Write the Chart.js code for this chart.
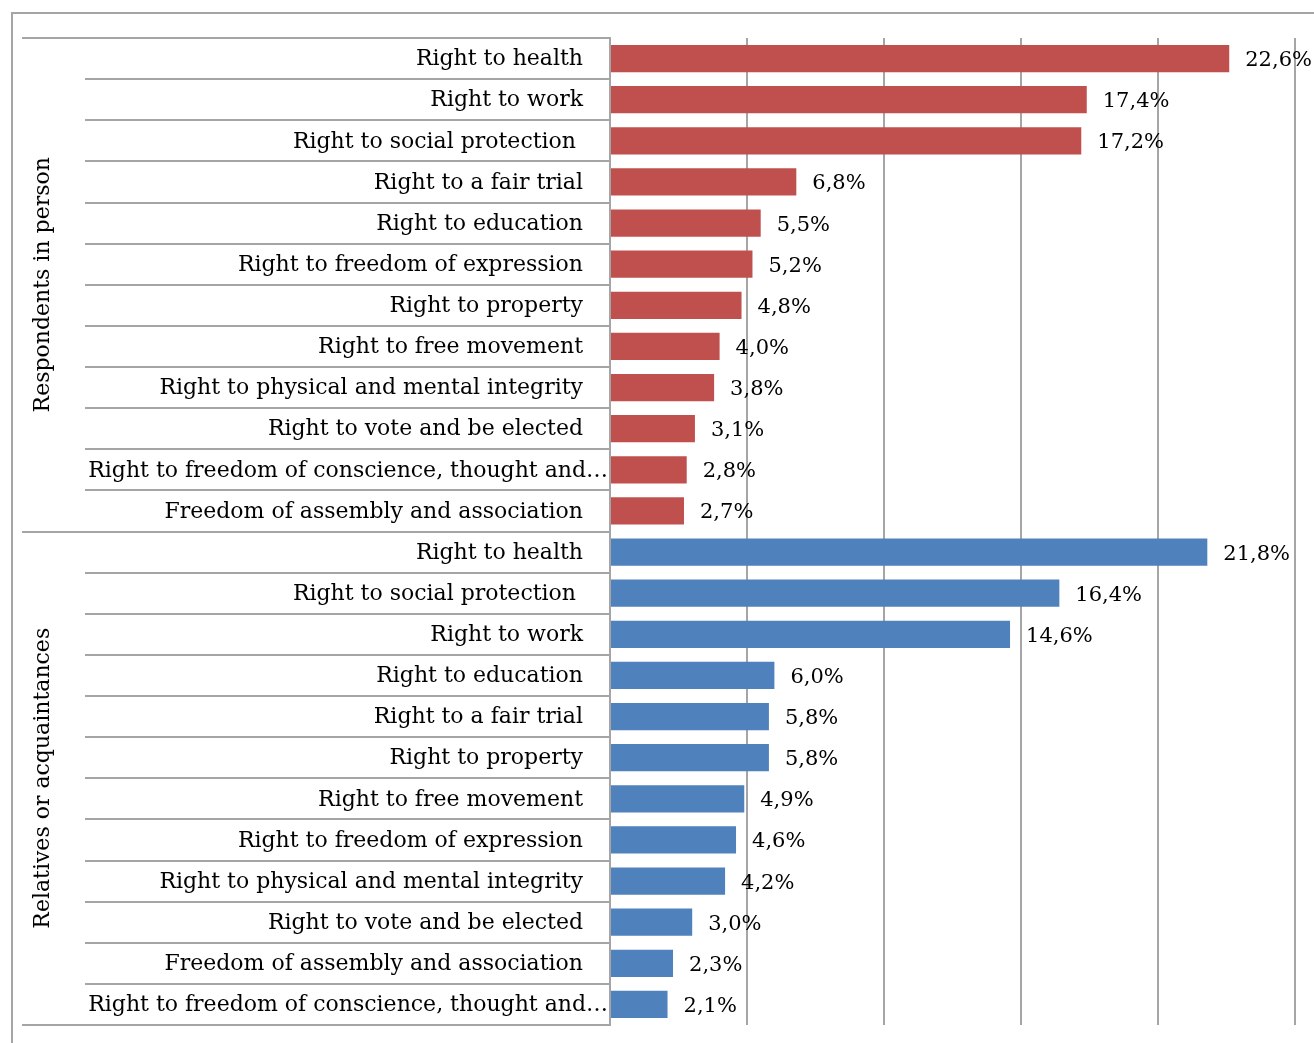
<!DOCTYPE html>
<html>
<head>
<meta charset="utf-8">
<script src="https://cdn.jsdelivr.net/npm/chart.js@4.4.1/dist/chart.umd.min.js"></script>
<style>
  html, body { margin: 0; padding: 0; background: #fff; }
  #wrap { position: relative; width: 1314px; height: 1043px; }
  #frame { position: absolute; left: 11px; top: 12px; right: -4px; bottom: -4px;
           border-left: 2px solid #a5a5a5; border-top: 2px solid #a5a5a5; }
  canvas { position: absolute; left: 0; top: 0; }
</style>
</head>
<body>
<div id="wrap">
  <div id="frame"></div>
  <canvas id="chart" width="1314" height="1043"></canvas>
</div>
<script>
const groupNames = ["Respondents in person", "Relatives or acquaintances"];

const personLabels = [
  "Right to health",
  "Right to work",
  "Right to social protection ",
  "Right to a fair trial",
  "Right to education",
  "Right to freedom of expression",
  "Right to property",
  "Right to free movement",
  "Right to physical and mental integrity",
  "Right to vote and be elected",
  "Right to freedom of conscience, thought and…",
  "Freedom of assembly and association"
];
const personValues = [22.6, 17.4, 17.2, 6.8, 5.5, 5.2, 4.8, 4.0, 3.8, 3.1, 2.8, 2.7];

const relativeLabels = [
  "Right to health",
  "Right to social protection ",
  "Right to work",
  "Right to education",
  "Right to a fair trial",
  "Right to property",
  "Right to free movement",
  "Right to freedom of expression",
  "Right to physical and mental integrity",
  "Right to vote and be elected",
  "Freedom of assembly and association",
  "Right to freedom of conscience, thought and…"
];
const relativeValues = [21.8, 16.4, 14.6, 6.0, 5.8, 5.8, 4.9, 4.6, 4.2, 3.0, 2.3, 2.1];

const xTicks = [0, 5, 10, 15, 20, 25];

const RED = "#C0504D";
const BLUE = "#4F81BD";
const GRID = "#a5a5a5";
const FONT = "DejaVu Serif";

const labels = personLabels.concat(relativeLabels);
const values = personValues.concat(relativeValues);
const colors = personValues.map(() => RED).concat(relativeValues.map(() => BLUE));

// category labels, separators, group titles and value labels
const decorations = {
  id: "decorations",
  afterDraw(chart) {
    const ctx = chart.ctx;
    const y = chart.scales.y;
    const area = chart.chartArea;
    const n = labels.length;
    const half = personLabels.length;
    const step = y.getPixelForValue(1) - y.getPixelForValue(0);

    ctx.save();
    // separators
    ctx.strokeStyle = GRID;
    ctx.lineWidth = 2;
    for (let i = 0; i <= n; i++) {
      const py = Math.round(y.getPixelForValue(i) - step / 2);
      const x0 = (i === 0 || i === n || i === half) ? 22 : 85;
      ctx.beginPath();
      ctx.moveTo(x0, py);
      ctx.lineTo(area.left, py);
      ctx.stroke();
    }

    // category labels
    ctx.fillStyle = "#000";
    ctx.font = "22px '" + FONT + "'";
    ctx.textBaseline = "middle";
    ctx.textAlign = "right";
    labels.forEach((lab, i) => {
      const py = y.getPixelForValue(i) + 1;
      const w = ctx.measureText(lab.trimEnd()).width;
      let right = area.left - 27;
      if (right - w < 88) right = area.left - 2;
      const txt = lab.endsWith(" ") ? lab.trimEnd() : lab;
      const shift = lab.endsWith(" ") ? 7 : 0;
      ctx.fillText(txt, right - shift, py);
    });

    // group titles
    ctx.textAlign = "center";
    const groups = [[0, half - 1], [half, n - 1]];
    groups.forEach((g, k) => {
      const cy = (y.getPixelForValue(g[0]) + y.getPixelForValue(g[1])) / 2;
      ctx.save();
      ctx.translate(43, cy);
      ctx.rotate(-Math.PI / 2);
      ctx.fillText(groupNames[k], 0, 0);
      ctx.restore();
    });

    // value labels
    ctx.textAlign = "left";
    ctx.font = "21px '" + FONT + "'";
    const meta = chart.getDatasetMeta(0);
    meta.data.forEach((bar, i) => {
      const txt = values[i].toFixed(1).replace(".", ",") + "%";
      ctx.fillText(txt, bar.x + 16, bar.y + 2);
    });
    ctx.restore();
  }
};

new Chart(document.getElementById("chart"), {
  type: "bar",
  data: {
    labels: labels,
    datasets: [{
      data: values,
      backgroundColor: colors,
      borderWidth: 0,
      barPercentage: 0.66,
      categoryPercentage: 1
    }]
  },
  options: {
    indexAxis: "y",
    responsive: false,
    animation: false,
    layout: { padding: { top: 38, bottom: 18, right: 19, left: 0 } },
    plugins: { legend: { display: false }, tooltip: { enabled: false } },
    scales: {
      x: {
        min: xTicks[0],
        max: xTicks[xTicks.length - 1],
        afterBuildTicks: s => { s.ticks = xTicks.map(v => ({ value: v })); },
        ticks: { display: false },
        border: { display: false },
        grid: { color: GRID, lineWidth: 2, drawTicks: false },
        afterFit: s => { s.height = 0; }
      },
      y: {
        ticks: { display: false },
        grid: { display: false },
        border: { display: true, color: GRID, width: 2 },
        afterFit: s => { s.width = 610; }
      }
    }
  },
  plugins: [decorations]
});
</script>
</body>
</html>
